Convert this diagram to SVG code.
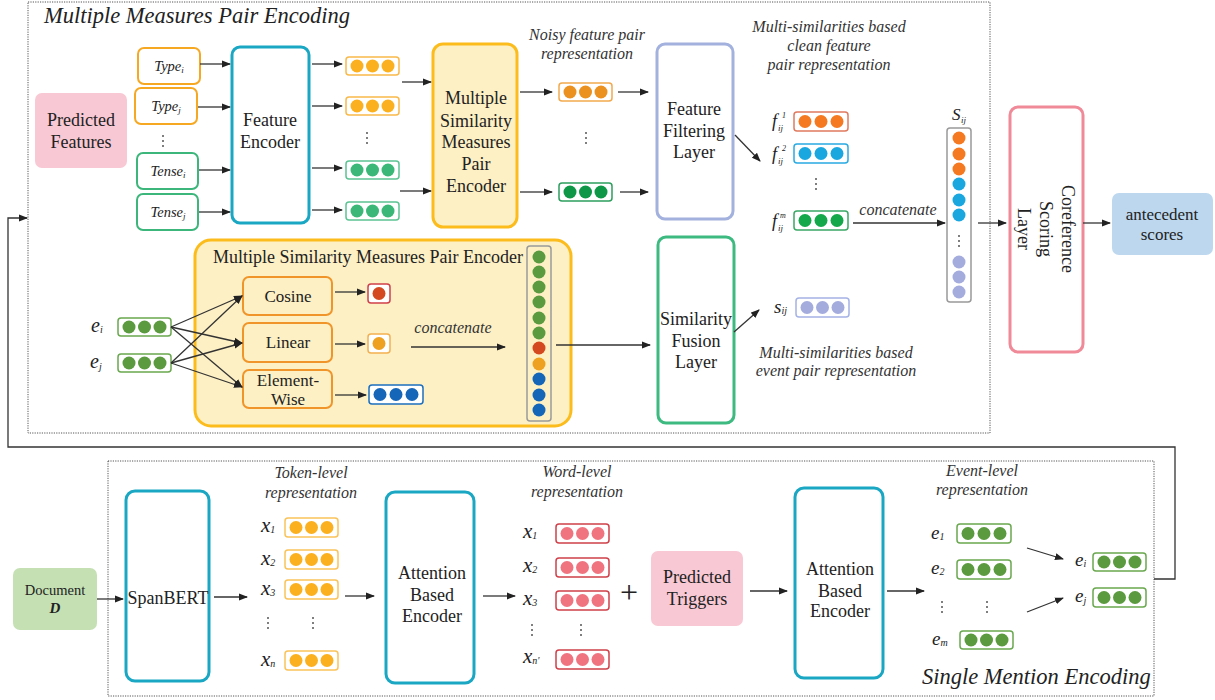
<svg xmlns="http://www.w3.org/2000/svg" width="1215" height="700" viewBox="0 0 1215 700" font-family="'Liberation Serif', 'Times New Roman', Times, 'DejaVu Serif', serif">
<style>
text{font-family:"Liberation Serif","Times New Roman",Times,"DejaVu Serif",serif;fill:#222;}
.t17{font-size:18px;text-anchor:middle;}
.t16{font-size:17px;text-anchor:middle;}
.it{font-style:italic;}
.ann{font-size:16px;font-style:italic;text-anchor:middle;fill:#333;}
.dot{fill:none;stroke:#555;stroke-width:1;stroke-dasharray:1.2 1.2;}
.ln{fill:none;stroke:#333;stroke-width:1.3;marker-end:url(#ah);}
.teal{fill:#fff;stroke:#1aa7c4;stroke-width:3;}
.vec{fill:#fff;stroke-width:1.5;}
.sm{fill:#555;}
</style>
<defs>
<marker id="ah" markerUnits="userSpaceOnUse" markerWidth="9" markerHeight="8" refX="8" refY="4" orient="auto">
<path d="M0,0.5 L9,4 L0,7.5 z" fill="#222"/>
</marker>
</defs>

<!-- section frames -->
<g id="frame-top">
<rect class="dot" x="28" y="2" width="962" height="431"/>
<text x="44" y="23" class="it" font-size="22.5">Multiple Measures Pair Encoding</text>
</g>
<g id="frame-bottom">
<rect class="dot" x="108" y="461" width="1046" height="235"/>
<text x="922" y="684" class="it" font-size="22.5">Single Mention Encoding</text>
</g>

<!-- top section nodes -->
<g id="predicted-features">
<rect x="35" y="93" width="92" height="75" rx="7" fill="#f8c8d4"/>
<text class="t17" x="81" y="126">Predicted</text>
<text class="t17" x="81" y="148">Features</text>
</g>
<g id="type-i">
<rect x="138" y="48" width="62" height="36" rx="6" fill="#fff" stroke="#f7a823" stroke-width="2"/>
<text class="it" x="169" y="71" font-size="14.5" text-anchor="middle">Type<tspan font-size="9" dy="2">i</tspan></text>
</g>
<g id="type-j">
<rect x="135" y="88" width="62" height="36" rx="6" fill="#fff" stroke="#f7a823" stroke-width="2"/>
<text class="it" x="166" y="111" font-size="14.5" text-anchor="middle">Type<tspan font-size="9" dy="2">j</tspan></text>
</g>
<g id="feat-dots"><circle class="sm" cx="163" cy="136" r="1"/><circle class="sm" cx="163" cy="141" r="1"/><circle class="sm" cx="163" cy="146" r="1"/></g>
<g id="tense-i">
<rect x="137" y="153" width="61" height="36" rx="6" fill="#fff" stroke="#3db67c" stroke-width="2"/>
<text class="it" x="168" y="176" font-size="14.5" text-anchor="middle">Tense<tspan font-size="9" dy="2">i</tspan></text>
</g>
<g id="tense-j">
<rect x="137" y="194" width="61" height="36" rx="6" fill="#fff" stroke="#3db67c" stroke-width="2"/>
<text class="it" x="168" y="217" font-size="14.5" text-anchor="middle">Tense<tspan font-size="9" dy="2">j</tspan></text>
</g>
<g id="feature-encoder">
<rect class="teal" x="232" y="47" width="77" height="176" rx="8"/>
<text class="t17" x="270" y="126">Feature</text>
<text class="t17" x="270" y="148">Encoder</text>
</g>
<g id="feat-vectors">
<rect class="vec" x="346" y="57" width="53" height="18" rx="3" stroke="#f9b94a"/>
<circle cx="357" cy="66" r="6.5" fill="#fbb11f"/><circle cx="372.5" cy="66" r="6.5" fill="#fbb11f"/><circle cx="388" cy="66" r="6.5" fill="#fbb11f"/>
<rect class="vec" x="346" y="97" width="53" height="18" rx="3" stroke="#f9b94a"/>
<circle cx="357" cy="106" r="6.5" fill="#fbb11f"/><circle cx="372.5" cy="106" r="6.5" fill="#fbb11f"/><circle cx="388" cy="106" r="6.5" fill="#fbb11f"/>
<circle class="sm" cx="367" cy="133" r="1"/><circle class="sm" cx="367" cy="138" r="1"/><circle class="sm" cx="367" cy="143" r="1"/>
<rect class="vec" x="346" y="161" width="53" height="18" rx="3" stroke="#5cc493"/>
<circle cx="357" cy="170" r="6.5" fill="#3bb878"/><circle cx="372.5" cy="170" r="6.5" fill="#3bb878"/><circle cx="388" cy="170" r="6.5" fill="#3bb878"/>
<rect class="vec" x="346" y="202" width="53" height="18" rx="3" stroke="#5cc493"/>
<circle cx="357" cy="211" r="6.5" fill="#3bb878"/><circle cx="372.5" cy="211" r="6.5" fill="#3bb878"/><circle cx="388" cy="211" r="6.5" fill="#3bb878"/>
</g>
<g id="msm-pair-encoder">
<rect x="433" y="44" width="84" height="183" rx="10" fill="#fdf0c4" stroke="#fbbc1c" stroke-width="3"/>
<text class="t17" x="476" y="104">Multiple</text>
<text class="t17" x="476" y="127">Similarity</text>
<text class="t17" x="476" y="148">Measures</text>
<text class="t17" x="476" y="170">Pair</text>
<text class="t17" x="476" y="192">Encoder</text>
</g>
<g id="noisy-vectors">
<text class="ann" x="587" y="40">Noisy feature pair</text>
<text class="ann" x="587" y="59">representation</text>
<rect class="vec" x="559" y="83" width="53" height="18" rx="3" stroke="#f2a94e"/>
<circle cx="570" cy="92" r="6.5" fill="#ea9120"/><circle cx="585.5" cy="92" r="6.5" fill="#ea9120"/><circle cx="601" cy="92" r="6.5" fill="#ea9120"/>
<circle class="sm" cx="586" cy="133" r="1"/><circle class="sm" cx="586" cy="138" r="1"/><circle class="sm" cx="586" cy="143" r="1"/>
<rect class="vec" x="559" y="183" width="53" height="18" rx="3" stroke="#2e9e5e"/>
<circle cx="570" cy="192" r="6.5" fill="#0d9747"/><circle cx="585.5" cy="192" r="6.5" fill="#0d9747"/><circle cx="601" cy="192" r="6.5" fill="#0d9747"/>
</g>
<g id="feature-filtering-layer">
<rect x="657" y="44" width="76" height="175" rx="8" fill="#fff" stroke="#a3b1de" stroke-width="3"/>
<text class="t17" x="694" y="115">Feature</text>
<text class="t17" x="694" y="137">Filtering</text>
<text class="t17" x="694" y="158">Layer</text>
</g>
<g id="clean-vectors">
<text class="ann" x="829" y="32">Multi-similarities based</text>
<text class="ann" x="829" y="51">clean feature</text>
<text class="ann" x="829" y="70">pair representation</text>
<text class="it" x="772" y="127" font-size="18">f</text><text class="it" x="778" y="131" font-size="9">ij</text><text class="it" x="782" y="118" font-size="8">1</text>
<rect class="vec" x="794" y="112" width="54" height="19" rx="3" stroke="#e07a5f"/>
<circle cx="805" cy="121.5" r="6.5" fill="#f47920"/><circle cx="821" cy="121.5" r="6.5" fill="#f47920"/><circle cx="837" cy="121.5" r="6.5" fill="#f47920"/>
<text class="it" x="772" y="160" font-size="18">f</text><text class="it" x="778" y="164" font-size="9">ij</text><text class="it" x="782" y="151" font-size="8">2</text>
<rect class="vec" x="794" y="144" width="54" height="19" rx="3" stroke="#29abe2"/>
<circle cx="805" cy="153.5" r="6.5" fill="#1aa7e0"/><circle cx="821" cy="153.5" r="6.5" fill="#1aa7e0"/><circle cx="837" cy="153.5" r="6.5" fill="#1aa7e0"/>
<circle class="sm" cx="816" cy="179" r="1"/><circle class="sm" cx="816" cy="184" r="1"/><circle class="sm" cx="816" cy="189" r="1"/>
<text class="it" x="772" y="227" font-size="18">f</text><text class="it" x="778" y="231" font-size="9">ij</text><text class="it" x="780" y="218" font-size="8">m</text>
<rect class="vec" x="794" y="211" width="54" height="19" rx="3" stroke="#3aa866"/>
<circle cx="805" cy="220.5" r="6.5" fill="#14a84a"/><circle cx="821" cy="220.5" r="6.5" fill="#14a84a"/><circle cx="837" cy="220.5" r="6.5" fill="#14a84a"/>
<text class="ann" x="898" y="215">concatenate</text>
</g>
<g id="s-ij-column">
<text class="it" x="952" y="120" font-size="17">S</text><text class="it" x="961" y="123" font-size="9">ij</text>
<rect x="947" y="128" width="24" height="174" rx="3" fill="#fff" stroke="#999" stroke-width="1.5"/>
<circle cx="959" cy="138" r="6.5" fill="#f47920"/><circle cx="959" cy="154" r="6.5" fill="#f47920"/><circle cx="959" cy="169" r="6.5" fill="#f47920"/>
<circle cx="959" cy="184" r="6.5" fill="#1aa7e0"/><circle cx="959" cy="200" r="6.5" fill="#1aa7e0"/><circle cx="959" cy="215" r="6.5" fill="#1aa7e0"/>
<circle class="sm" cx="959" cy="236" r="1"/><circle class="sm" cx="959" cy="241" r="1"/><circle class="sm" cx="959" cy="246" r="1"/>
<circle cx="959" cy="262" r="6.5" fill="#a4acde"/><circle cx="959" cy="277" r="6.5" fill="#a4acde"/><circle cx="959" cy="292" r="6.5" fill="#a4acde"/>
</g>
<g id="coreference-scoring-layer">
<rect x="1010" y="107" width="73" height="245" rx="8" fill="#fff" stroke="#f08a98" stroke-width="3"/>
<text class="t17" x="1062" y="229" transform="rotate(90 1062 229)">Coreference</text>
<text class="t17" x="1040" y="229" transform="rotate(90 1040 229)">Scoring</text>
<text class="t17" x="1018" y="229" transform="rotate(90 1018 229)">Layer</text>
</g>
<g id="antecedent-scores">
<rect x="1112" y="193" width="101" height="62" rx="7" fill="#bcd7ee"/>
<text class="t16" x="1162" y="220">antecedent</text>
<text class="t16" x="1162" y="240">scores</text>
</g>

<!-- MSM pair encoder detail -->
<g id="msmpe-detail">
<rect x="195" y="240" width="376" height="186" rx="16" fill="#fdf0c4" stroke="#fbbc1c" stroke-width="3"/>
<text x="213" y="263" font-size="18">Multiple Similarity Measures Pair Encoder</text>
</g>
<g id="ei-top">
<text class="it" x="91" y="332" font-size="20">e<tspan font-size="10" dy="1">i</tspan></text>
<rect class="vec" x="118" y="318" width="53" height="18" rx="3" stroke="#6aa84f"/>
<circle cx="129" cy="327" r="6.5" fill="#5b9a3e"/><circle cx="144.5" cy="327" r="6.5" fill="#5b9a3e"/><circle cx="160" cy="327" r="6.5" fill="#5b9a3e"/>
</g>
<g id="ej-top">
<text class="it" x="90" y="368" font-size="20">e<tspan font-size="10" dy="2">j</tspan></text>
<rect class="vec" x="118" y="354" width="53" height="18" rx="3" stroke="#6aa84f"/>
<circle cx="129" cy="363" r="6.5" fill="#5b9a3e"/><circle cx="144.5" cy="363" r="6.5" fill="#5b9a3e"/><circle cx="160" cy="363" r="6.5" fill="#5b9a3e"/>
</g>
<g id="cosine">
<rect x="243" y="277" width="89" height="38" rx="6" fill="#fdf0c4" stroke="#f0952a" stroke-width="2"/>
<text class="t16" x="288" y="302">Cosine</text>
</g>
<g id="linear">
<rect x="243" y="323" width="89" height="39" rx="6" fill="#fdf0c4" stroke="#f0952a" stroke-width="2"/>
<text class="t16" x="288" y="348">Linear</text>
</g>
<g id="element-wise">
<rect x="243" y="370" width="89" height="38" rx="6" fill="#fdf0c4" stroke="#f0952a" stroke-width="2"/>
<text class="t16" x="288" y="386">Element-</text>
<text class="t16" x="288" y="405">Wise</text>
</g>
<g id="sim-outputs">
<rect class="vec" x="368" y="284" width="22" height="19" rx="3" stroke="#d0404a"/>
<circle cx="379" cy="293.5" r="6.5" fill="#d4491f"/>
<rect class="vec" x="368" y="334" width="22" height="19" rx="3" stroke="#f3b050"/>
<circle cx="379" cy="343.5" r="6.5" fill="#eea020"/>
<rect class="vec" x="369" y="385" width="54" height="19" rx="3" stroke="#1c6fbf"/>
<circle cx="380" cy="394.5" r="6.5" fill="#1565b8"/><circle cx="396" cy="394.5" r="6.5" fill="#1565b8"/><circle cx="412" cy="394.5" r="6.5" fill="#1565b8"/>
<text class="ann" x="453" y="333">concatenate</text>
</g>
<g id="concat-column">
<rect x="527" y="246" width="24" height="175" rx="3" fill="#fdf0c4" stroke="#999" stroke-width="1.5"/>
<circle cx="539" cy="257" r="6.5" fill="#5b9a3e"/><circle cx="539" cy="272" r="6.5" fill="#5b9a3e"/><circle cx="539" cy="287" r="6.5" fill="#5b9a3e"/>
<circle cx="539" cy="302" r="6.5" fill="#5b9a3e"/><circle cx="539" cy="318" r="6.5" fill="#5b9a3e"/><circle cx="539" cy="333" r="6.5" fill="#5b9a3e"/>
<circle cx="539" cy="348" r="6.5" fill="#d4491f"/><circle cx="539" cy="364" r="6.5" fill="#eea020"/>
<circle cx="539" cy="379" r="6.5" fill="#1565b8"/><circle cx="539" cy="395" r="6.5" fill="#1565b8"/><circle cx="539" cy="410" r="6.5" fill="#1565b8"/>
</g>
<g id="similarity-fusion-layer">
<rect x="658" y="237" width="76" height="186" rx="8" fill="#fff" stroke="#3cba80" stroke-width="3"/>
<text class="t17" x="696" y="325">Similarity</text>
<text class="t17" x="696" y="347">Fusion</text>
<text class="t17" x="696" y="368">Layer</text>
</g>
<g id="s-ij-vec">
<text class="it" x="774" y="313" font-size="19">s<tspan font-size="10" dy="1">ij</tspan></text>
<rect class="vec" x="796" y="298" width="53" height="19" rx="3" stroke="#a5b3e6"/>
<circle cx="807" cy="307.5" r="6.5" fill="#a4acde"/><circle cx="822.5" cy="307.5" r="6.5" fill="#a4acde"/><circle cx="838" cy="307.5" r="6.5" fill="#a4acde"/>
<text class="ann" x="836" y="358">Multi-similarities based</text>
<text class="ann" x="836" y="376">event pair representation</text>
</g>

<!-- bottom section nodes -->
<g id="document">
<rect x="13" y="568" width="84" height="62" rx="7" fill="#c5e0b3"/>
<text x="55" y="595" font-size="14.5" text-anchor="middle">Document</text>
<text x="55" y="613" font-size="15" text-anchor="middle" font-weight="bold" font-style="italic">D</text>
</g>
<g id="spanbert">
<rect class="teal" x="126" y="491" width="83" height="190" rx="9"/>
<text class="t17" x="168" y="604" font-size="17.5">SpanBERT</text>
</g>
<g id="token-vectors">
<text class="ann" x="311" y="478">Token-level</text>
<text class="ann" x="311" y="498">representation</text>
<text class="it" x="261" y="532" font-size="21">x<tspan font-size="10" dy="1">1</tspan></text>
<rect class="vec" x="285" y="518" width="53" height="19" rx="3" stroke="#f9c35a"/>
<circle cx="296" cy="527.5" r="6.5" fill="#fbb11f"/><circle cx="311.5" cy="527.5" r="6.5" fill="#fbb11f"/><circle cx="327" cy="527.5" r="6.5" fill="#fbb11f"/>
<text class="it" x="261" y="565" font-size="21">x<tspan font-size="10" dy="1">2</tspan></text>
<rect class="vec" x="285" y="550" width="53" height="19" rx="3" stroke="#f9c35a"/>
<circle cx="296" cy="559.5" r="6.5" fill="#fbb11f"/><circle cx="311.5" cy="559.5" r="6.5" fill="#fbb11f"/><circle cx="327" cy="559.5" r="6.5" fill="#fbb11f"/>
<text class="it" x="261" y="595" font-size="21">x<tspan font-size="10" dy="1">3</tspan></text>
<rect class="vec" x="285" y="580" width="53" height="19" rx="3" stroke="#f9c35a"/>
<circle cx="296" cy="589.5" r="6.5" fill="#fbb11f"/><circle cx="311.5" cy="589.5" r="6.5" fill="#fbb11f"/><circle cx="327" cy="589.5" r="6.5" fill="#fbb11f"/>
<circle class="sm" cx="268" cy="618" r="1"/><circle class="sm" cx="268" cy="623" r="1"/><circle class="sm" cx="268" cy="628" r="1"/>
<circle class="sm" cx="313" cy="618" r="1"/><circle class="sm" cx="313" cy="623" r="1"/><circle class="sm" cx="313" cy="628" r="1"/>
<text class="it" x="261" y="666" font-size="21">x<tspan font-size="10" dy="1">n</tspan></text>
<rect class="vec" x="285" y="651" width="53" height="19" rx="3" stroke="#f9c35a"/>
<circle cx="296" cy="660.5" r="6.5" fill="#fbb11f"/><circle cx="311.5" cy="660.5" r="6.5" fill="#fbb11f"/><circle cx="327" cy="660.5" r="6.5" fill="#fbb11f"/>
</g>
<g id="attention-encoder-1">
<rect class="teal" x="386" y="492" width="88" height="191" rx="9"/>
<text class="t17" x="432" y="579">Attention</text>
<text class="t17" x="432" y="601">Based</text>
<text class="t17" x="432" y="622">Encoder</text>
</g>
<g id="word-vectors">
<text class="ann" x="577" y="477">Word-level</text>
<text class="ann" x="577" y="497">representation</text>
<text class="it" x="523" y="538" font-size="21">x<tspan font-size="10" dy="1">1</tspan></text>
<rect class="vec" x="556" y="524" width="53" height="19" rx="3" stroke="#d0404a"/>
<circle cx="567" cy="533.5" r="6.5" fill="#f07480"/><circle cx="582.5" cy="533.5" r="6.5" fill="#f07480"/><circle cx="598" cy="533.5" r="6.5" fill="#f07480"/>
<text class="it" x="523" y="572" font-size="21">x<tspan font-size="10" dy="1">2</tspan></text>
<rect class="vec" x="556" y="558" width="53" height="19" rx="3" stroke="#d0404a"/>
<circle cx="567" cy="567.5" r="6.5" fill="#f07480"/><circle cx="582.5" cy="567.5" r="6.5" fill="#f07480"/><circle cx="598" cy="567.5" r="6.5" fill="#f07480"/>
<text class="it" x="523" y="605" font-size="21">x<tspan font-size="10" dy="1">3</tspan></text>
<rect class="vec" x="556" y="591" width="53" height="19" rx="3" stroke="#d0404a"/>
<circle cx="567" cy="600.5" r="6.5" fill="#f07480"/><circle cx="582.5" cy="600.5" r="6.5" fill="#f07480"/><circle cx="598" cy="600.5" r="6.5" fill="#f07480"/>
<circle class="sm" cx="532" cy="625" r="1"/><circle class="sm" cx="532" cy="630" r="1"/><circle class="sm" cx="532" cy="635" r="1"/>
<circle class="sm" cx="581" cy="625" r="1"/><circle class="sm" cx="581" cy="630" r="1"/><circle class="sm" cx="581" cy="635" r="1"/>
<text class="it" x="523" y="663" font-size="21">x<tspan font-size="10" dy="1">n'</tspan></text>
<rect class="vec" x="556" y="650" width="53" height="19" rx="3" stroke="#d0404a"/>
<circle cx="567" cy="659.5" r="6.5" fill="#f07480"/><circle cx="582.5" cy="659.5" r="6.5" fill="#f07480"/><circle cx="598" cy="659.5" r="6.5" fill="#f07480"/>
</g>
<g id="plus"><text x="629" y="603" font-size="32" text-anchor="middle">+</text></g>
<g id="predicted-triggers">
<rect x="651" y="551" width="92" height="75" rx="7" fill="#f8c8d4"/>
<text class="t17" x="697" y="583">Predicted</text>
<text class="t17" x="697" y="605">Triggers</text>
</g>
<g id="attention-encoder-2">
<rect class="teal" x="795" y="488" width="88" height="190" rx="9"/>
<text class="t17" x="840" y="575">Attention</text>
<text class="t17" x="840" y="597">Based</text>
<text class="t17" x="840" y="617">Encoder</text>
</g>
<g id="event-vectors">
<text class="ann" x="982" y="476">Event-level</text>
<text class="ann" x="982" y="495">representation</text>
<text class="it" x="931" y="539" font-size="19">e<tspan font-size="10" dy="1">1</tspan></text>
<rect class="vec" x="957" y="524" width="54" height="19" rx="3" stroke="#6aa84f"/>
<circle cx="968" cy="533.5" r="6.5" fill="#5b9a3e"/><circle cx="984" cy="533.5" r="6.5" fill="#5b9a3e"/><circle cx="1000" cy="533.5" r="6.5" fill="#5b9a3e"/>
<text class="it" x="931" y="574" font-size="19">e<tspan font-size="10" dy="1">2</tspan></text>
<rect class="vec" x="957" y="560" width="54" height="19" rx="3" stroke="#6aa84f"/>
<circle cx="968" cy="569.5" r="6.5" fill="#5b9a3e"/><circle cx="984" cy="569.5" r="6.5" fill="#5b9a3e"/><circle cx="1000" cy="569.5" r="6.5" fill="#5b9a3e"/>
<circle class="sm" cx="942" cy="602" r="1"/><circle class="sm" cx="942" cy="607" r="1"/><circle class="sm" cx="942" cy="612" r="1"/>
<circle class="sm" cx="987" cy="602" r="1"/><circle class="sm" cx="987" cy="607" r="1"/><circle class="sm" cx="987" cy="612" r="1"/>
<text class="it" x="932" y="645" font-size="19">e<tspan font-size="10" dy="1">m</tspan></text>
<rect class="vec" x="960" y="631" width="53" height="18" rx="3" stroke="#6aa84f"/>
<circle cx="971" cy="640" r="6.5" fill="#5b9a3e"/><circle cx="986.5" cy="640" r="6.5" fill="#5b9a3e"/><circle cx="1002" cy="640" r="6.5" fill="#5b9a3e"/>
</g>
<g id="ei-bottom">
<text class="it" x="1075" y="566" font-size="19">e<tspan font-size="10" dy="1">i</tspan></text>
<rect class="vec" x="1093" y="553" width="53" height="18" rx="3" stroke="#6aa84f"/>
<circle cx="1104" cy="562" r="6.5" fill="#5b9a3e"/><circle cx="1119.5" cy="562" r="6.5" fill="#5b9a3e"/><circle cx="1135" cy="562" r="6.5" fill="#5b9a3e"/>
</g>
<g id="ej-bottom">
<text class="it" x="1075" y="602" font-size="19">e<tspan font-size="10" dy="2">j</tspan></text>
<rect class="vec" x="1093" y="588" width="53" height="19" rx="3" stroke="#6aa84f"/>
<circle cx="1104" cy="597.5" r="6.5" fill="#5b9a3e"/><circle cx="1119.5" cy="597.5" r="6.5" fill="#5b9a3e"/><circle cx="1135" cy="597.5" r="6.5" fill="#5b9a3e"/>
</g>

<!-- connectors (drawn last so they sit above panel fills) -->
<g id="connectors">
<polyline class="ln" points="1154,579 1175,579 1175,447 8,447 8,218 27,218" stroke="#444" stroke-width="1.5"/>
<line class="ln" x1="200" y1="64" x2="230" y2="64"/>
<line class="ln" x1="198" y1="107" x2="230" y2="107"/>
<line class="ln" x1="199" y1="170" x2="230" y2="170"/>
<line class="ln" x1="199" y1="212" x2="230" y2="212"/>
<line class="ln" x1="312" y1="64" x2="342" y2="64"/>
<line class="ln" x1="312" y1="106" x2="342" y2="106"/>
<line class="ln" x1="312" y1="168" x2="342" y2="168"/>
<line class="ln" x1="312" y1="210" x2="342" y2="210"/>
<line class="ln" x1="402" y1="82" x2="431" y2="82"/>
<line class="ln" x1="400" y1="191" x2="431" y2="191"/>
<line class="ln" x1="520" y1="92" x2="552" y2="92"/>
<line class="ln" x1="520" y1="192" x2="552" y2="192"/>
<line class="ln" x1="618" y1="92" x2="648" y2="92"/>
<line class="ln" x1="620" y1="192" x2="648" y2="192"/>
<line class="ln" x1="735" y1="135" x2="760" y2="161"/>
<line class="ln" x1="853" y1="223" x2="945" y2="223"/>
<line class="ln" x1="978" y1="223" x2="1006" y2="223"/>
<line class="ln" x1="1083" y1="223" x2="1110" y2="223"/>
<line class="ln" x1="171" y1="327" x2="242" y2="296"/>
<line class="ln" x1="171" y1="327" x2="242" y2="343"/>
<line class="ln" x1="171" y1="327" x2="242" y2="387"/>
<line class="ln" x1="171" y1="363" x2="242" y2="296"/>
<line class="ln" x1="171" y1="363" x2="242" y2="343"/>
<line class="ln" x1="171" y1="363" x2="242" y2="387"/>
<line class="ln" x1="335" y1="292" x2="365" y2="292"/>
<line class="ln" x1="335" y1="344" x2="365" y2="344"/>
<line class="ln" x1="335" y1="395" x2="366" y2="395"/>
<line class="ln" x1="411" y1="347" x2="505" y2="347"/>
<line class="ln" x1="556" y1="345" x2="650" y2="345"/>
<line class="ln" x1="734" y1="332" x2="759" y2="310"/>
<line class="ln" x1="97" y1="599" x2="123" y2="599"/>
<line class="ln" x1="214" y1="597" x2="247" y2="597"/>
<line class="ln" x1="345" y1="596" x2="374" y2="596"/>
<line class="ln" x1="483" y1="596" x2="515" y2="596"/>
<line class="ln" x1="750" y1="591" x2="787" y2="591"/>
<line class="ln" x1="887" y1="591" x2="924" y2="591"/>
<line class="ln" x1="1027" y1="548" x2="1063" y2="559"/>
<line class="ln" x1="1027" y1="612" x2="1063" y2="598"/>
</g>
</svg>
